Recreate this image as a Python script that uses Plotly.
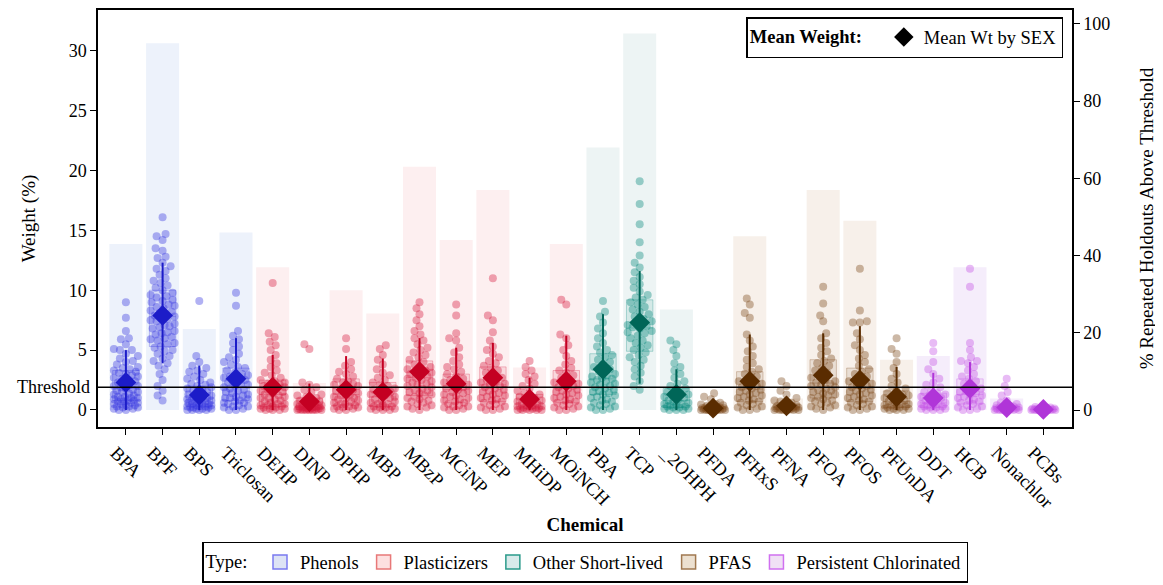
import numpy as np
import plotly.graph_objects as go

# ---------------- data ----------------
CHEMICALS = ["BPA", "BPF", "BPS", "Triclosan", "DEHP", "DINP", "DPHP", "MBP", "MBzP", "MCiNP",
             "MEP", "MHiDP", "MOiNCH", "PBA", "TCP", "_2OHPH", "PFDA", "PFHxS", "PFNA", "PFOA",
             "PFOS", "PFUnDA", "DDT", "HCB", "Nonachlor", "PCBs"]
CHEM_TYPE = ["Phenols", "Phenols", "Phenols", "Phenols",
             "Plasticizers", "Plasticizers", "Plasticizers", "Plasticizers", "Plasticizers",
             "Plasticizers", "Plasticizers", "Plasticizers", "Plasticizers",
             "Other Short-lived", "Other Short-lived", "Other Short-lived",
             "PFAS", "PFAS", "PFAS", "PFAS", "PFAS", "PFAS",
             "Persistent Chlorinated", "Persistent Chlorinated", "Persistent Chlorinated",
             "Persistent Chlorinated"]
TYPES = ["Phenols", "Plasticizers", "Other Short-lived", "PFAS", "Persistent Chlorinated"]

# % repeated holdouts above threshold (right axis)
PCT_ABOVE = [43, 95, 21, 46, 37, 7, 31, 25, 63, 44, 57, 11, 43, 68, 97.5, 26, 0, 45, 3, 57, 49,
             13, 14, 37, 3, 0]
# mean weight (left axis)
MEAN_WT = [2.3, 7.9, 1.25, 2.6, 1.9, 0.7, 1.7, 1.5, 3.2, 2.2, 2.7, 0.9, 2.4, 3.4, 7.3, 1.3, 0.15,
           2.4, 0.35, 2.9, 2.5, 1.1, 1.0, 1.8, 0.2, 0.05]
Q1 = [0.8, 5.3, 0.3, 0.8, 0.3, 0.05, 0.4, 0.3, 1.2, 0.6, 0.7, 0.1, 0.6, 1.3, 4.9, 0.2, 0.0, 0.7,
      0.05, 1.0, 0.7, 0.2, 0.2, 0.5, 0.0, 0.0]
MEDIAN = [1.8, 7.8, 0.9, 1.9, 1.3, 0.4, 1.3, 1.1, 2.7, 1.7, 2.1, 0.6, 1.8, 2.6, 6.85, 0.8, 0.1,
          1.75, 0.2, 2.25, 1.8, 0.7, 0.6, 1.3, 0.1, 0.02]
Q3 = [3.3, 10.0, 2.0, 3.5, 2.5, 1.0, 2.6, 2.3, 4.1, 3.0, 3.6, 1.3, 3.3, 4.7, 9.2, 1.8, 0.25, 3.2,
      0.5, 4.2, 3.5, 1.6, 1.4, 2.6, 0.3, 0.1]
WHISK_LO = [0, 3.9, 0, 0, 0, 0, 0, 0, 0, 0, 0, 0, 0, 0, 2.2, 0, 0, 0, 0, 0, 0, 0, 0, 0, 0, 0]
WHISK_HI = [5.0, 12.3, 3.7, 6.0, 4.6, 2.2, 4.5, 4.3, 6.0, 5.2, 5.6, 2.7, 6.2, 8.0, 11.6, 3.4, 0.6,
            6.3, 1.1, 6.4, 7.0, 3.6, 3.1, 4.0, 0.8, 0.3]
THRESHOLD = 1.9

# individual holdout weights (left axis)
W_BPA = [0.0, 0.0, 0.1, 0.1, 0.2, 0.2, 0.3, 0.3, 0.4, 0.4, 0.5, 0.5, 0.6, 0.6, 0.7, 0.7, 0.8, 0.8,
         0.9, 0.9, 1.0, 1.0, 1.1, 1.1, 1.2, 1.3, 1.4, 1.5, 1.5, 1.6, 1.7, 1.8, 1.9, 2.0, 2.0, 2.1,
         2.2, 2.3, 2.4, 2.5, 2.6, 2.7, 2.8, 2.9, 3.0, 3.1, 3.2, 3.3, 3.4, 3.5, 3.6, 3.8, 4.0, 4.1,
         4.3, 4.5, 4.7, 5.0, 5.0, 5.1, 5.5, 5.9, 6.0, 6.6, 7.7, 9.0]
W_BPF = [0.8, 1.2, 1.6, 2.0, 2.5, 3.0, 3.4, 3.7, 3.9, 4.1, 4.3, 4.5, 4.7, 4.9, 5.0, 5.2, 5.3, 5.5,
         5.6, 5.8, 5.9, 6.0, 6.1, 6.3, 6.4, 6.5, 6.6, 6.8, 6.9, 7.0, 7.1, 7.2, 7.4, 7.5, 7.6, 7.7,
         7.8, 7.9, 8.0, 8.1, 8.2, 8.3, 8.5, 8.6, 8.7, 8.8, 9.0, 9.1, 9.2, 9.4, 9.5, 9.6, 9.8, 10.0,
         10.2, 10.4, 10.6, 10.8, 11.0, 11.3, 11.6, 11.8, 12.0, 12.3, 12.7, 12.8, 13.3, 13.5, 14.2,
         14.5, 14.7, 16.1]
W_BPS = [0.0, 0.0, 0.0, 0.0, 0.1, 0.1, 0.1, 0.2, 0.2, 0.2, 0.3, 0.3, 0.3, 0.4, 0.4, 0.5, 0.5, 0.5,
         0.6, 0.6, 0.7, 0.7, 0.8, 0.8, 0.9, 0.9, 1.0, 1.0, 1.1, 1.2, 1.2, 1.3, 1.4, 1.5, 1.6, 1.7,
         1.8, 1.9, 2.0, 2.1, 2.2, 2.3, 2.5, 2.6, 2.8, 3.0, 3.2, 3.3, 3.5, 3.7, 4.0, 4.5, 9.1]
W_TRICLOSAN = [0.0, 0.0, 0.1, 0.2, 0.3, 0.3, 0.4, 0.5, 0.6, 0.6, 0.7, 0.8, 0.9, 1.0, 1.0, 1.1, 1.2,
               1.3, 1.4, 1.5, 1.6, 1.7, 1.8, 1.9, 2.0, 2.1, 2.2, 2.3, 2.4, 2.5, 2.6, 2.7, 2.8, 2.9,
               3.0, 3.1, 3.3, 3.5, 3.6, 3.8, 4.0, 4.2, 4.4, 4.7, 5.0, 5.3, 5.6, 5.9, 6.2, 6.6, 8.7,
               9.8]
W_DEHP = [0.0, 0.0, 0.0, 0.1, 0.1, 0.1, 0.2, 0.2, 0.3, 0.3, 0.4, 0.4, 0.5, 0.5, 0.6, 0.7, 0.8, 0.9,
          1.0, 1.0, 1.1, 1.2, 1.3, 1.4, 1.5, 1.6, 1.7, 1.8, 1.9, 2.0, 2.0, 2.1, 2.2, 2.3, 2.4, 2.5,
          2.7, 2.9, 3.1, 3.3, 3.6, 3.9, 4.2, 4.6, 5.0, 5.4, 5.7, 6.1, 6.4, 10.6]
W_DINP = [0.0, 0.0, 0.0, 0.0, 0.0, 0.0, 0.0, 0.05, 0.05, 0.05, 0.1, 0.1, 0.1, 0.1, 0.15, 0.15, 0.2,
          0.2, 0.2, 0.25, 0.3, 0.3, 0.3, 0.35, 0.4, 0.4, 0.45, 0.5, 0.5, 0.6, 0.6, 0.7, 0.7, 0.8,
          0.9, 1.0, 1.1, 1.2, 1.3, 1.5, 1.7, 1.9, 2.1, 2.3, 5.1, 5.5]
W_DPHP = [0.0, 0.0, 0.1, 0.1, 0.2, 0.2, 0.3, 0.3, 0.4, 0.5, 0.5, 0.6, 0.7, 0.8, 0.9, 1.0, 1.0, 1.1,
          1.2, 1.3, 1.4, 1.5, 1.6, 1.7, 1.8, 1.9, 2.0, 2.1, 2.2, 2.3, 2.4, 2.6, 2.8, 3.0, 3.2, 3.4,
          3.7, 4.0, 5.1, 6.0]
W_MBP = [0.0, 0.0, 0.0, 0.1, 0.1, 0.2, 0.2, 0.3, 0.3, 0.4, 0.5, 0.5, 0.6, 0.7, 0.8, 0.9, 1.0, 1.1,
         1.2, 1.3, 1.4, 1.5, 1.6, 1.7, 1.8, 2.0, 2.1, 2.3, 2.5, 2.7, 2.9, 3.1, 3.4, 3.8, 4.2, 4.6,
         5.1, 5.4]
W_MBZP = [0.0, 0.1, 0.2, 0.3, 0.4, 0.5, 0.6, 0.7, 0.8, 0.9, 1.0, 1.1, 1.2, 1.3, 1.4, 1.5, 1.6, 1.7,
          1.8, 1.9, 2.0, 2.1, 2.2, 2.3, 2.4, 2.5, 2.6, 2.7, 2.8, 2.9, 3.0, 3.1, 3.2, 3.3, 3.4, 3.5,
          3.6, 3.8, 4.0, 4.2, 4.4, 4.6, 4.8, 5.0, 5.2, 5.5, 5.8, 6.0, 6.3, 6.6, 7.0, 7.5, 8.0, 8.5,
          9.0]
W_MCINP = [0.0, 0.0, 0.1, 0.2, 0.3, 0.3, 0.4, 0.5, 0.6, 0.7, 0.8, 0.9, 1.0, 1.1, 1.2, 1.3, 1.4,
           1.5, 1.6, 1.7, 1.8, 1.9, 2.0, 2.1, 2.2, 2.3, 2.5, 2.6, 2.8, 3.0, 3.2, 3.4, 3.6, 3.8, 4.1,
           4.4, 4.8, 5.2, 5.8, 6.0, 6.4, 7.9, 8.8]
W_MEP = [0.0, 0.0, 0.1, 0.2, 0.3, 0.4, 0.5, 0.6, 0.7, 0.8, 0.9, 1.0, 1.1, 1.2, 1.3, 1.4, 1.5, 1.6,
         1.7, 1.8, 1.9, 2.0, 2.1, 2.2, 2.3, 2.4, 2.5, 2.7, 2.9, 3.1, 3.3, 3.5, 3.7, 3.9, 4.1, 4.4,
         4.7, 5.0, 5.3, 5.8, 6.5, 7.5, 7.9, 11.0]
W_MHIDP = [0.0, 0.0, 0.0, 0.0, 0.0, 0.1, 0.1, 0.1, 0.15, 0.2, 0.2, 0.25, 0.3, 0.3, 0.4, 0.4, 0.5,
           0.5, 0.6, 0.7, 0.8, 0.9, 1.0, 1.1, 1.2, 1.3, 1.4, 1.6, 1.8, 2.0, 2.2, 2.5, 2.8, 3.0,
           3.3, 3.6, 4.1]
W_MOINCH = [0.0, 0.0, 0.1, 0.2, 0.3, 0.4, 0.5, 0.6, 0.7, 0.8, 0.9, 1.0, 1.1, 1.2, 1.3, 1.4, 1.5,
            1.6, 1.7, 1.8, 1.9, 2.0, 2.1, 2.2, 2.3, 2.5, 2.7, 2.9, 3.1, 3.3, 3.5, 3.8, 4.1, 4.5,
            5.0, 5.4, 6.0, 6.3, 8.8, 9.2]
W_PBA = [0.0, 0.0, 0.1, 0.2, 0.3, 0.4, 0.5, 0.6, 0.7, 0.8, 0.9, 1.0, 1.1, 1.2, 1.3, 1.4, 1.5, 1.6,
         1.7, 1.8, 1.9, 2.0, 2.1, 2.2, 2.3, 2.4, 2.5, 2.6, 2.7, 2.8, 2.9, 3.0, 3.2, 3.4, 3.6, 3.8,
         4.0, 4.2, 4.4, 4.6, 4.8, 5.0, 5.3, 5.6, 6.0, 6.4, 6.8, 7.3, 7.8, 8.2, 9.1]
W_TCP = [1.7, 2.0, 2.4, 2.8, 3.1, 3.4, 3.7, 4.0, 4.2, 4.4, 4.6, 4.8, 5.0, 5.2, 5.4, 5.6, 5.8, 6.0,
         6.2, 6.4, 6.5, 6.6, 6.8, 6.9, 7.0, 7.1, 7.3, 7.4, 7.6, 7.8, 8.0, 8.2, 8.4, 8.6, 8.8, 9.0,
         9.2, 9.4, 9.6, 9.9, 10.2, 10.5, 10.8, 11.1, 11.5, 11.9, 12.3, 12.9, 14.0, 15.5, 17.2,
         19.1]
W_2OHPH = [0.0, 0.0, 0.0, 0.1, 0.1, 0.2, 0.2, 0.3, 0.3, 0.4, 0.4, 0.5, 0.5, 0.6, 0.7, 0.8, 0.9, 1.0,
           1.1, 1.2, 1.3, 1.4, 1.5, 1.6, 1.8, 2.0, 2.2, 2.4, 2.7, 3.0, 3.3, 3.6, 3.9, 4.5, 5.0, 5.5,
           5.8]
W_PFDA = [0.0, 0.0, 0.0, 0.0, 0.0, 0.0, 0.0, 0.0, 0.05, 0.05, 0.05, 0.1, 0.1, 0.1, 0.1, 0.15, 0.15,
          0.2, 0.2, 0.2, 0.25, 0.3, 0.3, 0.35, 0.4, 0.45, 0.5, 0.6, 0.9, 1.1, 1.4]
W_PFHXS = [0.0, 0.0, 0.1, 0.2, 0.3, 0.4, 0.5, 0.6, 0.7, 0.8, 0.9, 1.0, 1.1, 1.2, 1.3, 1.4, 1.5,
           1.6, 1.7, 1.8, 1.9, 2.0, 2.1, 2.2, 2.4, 2.6, 2.8, 3.0, 3.2, 3.4, 3.6, 3.9, 4.2, 4.5,
           4.9, 5.3, 5.8, 6.3, 7.7, 8.1, 8.8, 9.3]
W_PFNA = [0.0, 0.0, 0.0, 0.0, 0.0, 0.0, 0.05, 0.05, 0.1, 0.1, 0.1, 0.15, 0.15, 0.2, 0.2, 0.25, 0.3,
          0.3, 0.35, 0.4, 0.5, 0.6, 0.7, 0.8, 1.0, 1.3, 1.6, 2.0, 2.4]
W_PFOA = [0.0, 0.1, 0.2, 0.3, 0.4, 0.5, 0.6, 0.7, 0.8, 0.9, 1.0, 1.1, 1.2, 1.3, 1.4, 1.5, 1.6, 1.7,
          1.8, 1.9, 2.0, 2.1, 2.2, 2.3, 2.4, 2.5, 2.7, 2.9, 3.1, 3.3, 3.5, 3.7, 3.9, 4.1, 4.3, 4.6,
          4.9, 5.2, 5.6, 6.0, 6.4, 7.4, 7.9, 8.9, 10.3]
W_PFOS = [0.0, 0.0, 0.1, 0.2, 0.3, 0.4, 0.5, 0.6, 0.7, 0.8, 0.9, 1.0, 1.1, 1.2, 1.3, 1.4, 1.5, 1.6,
          1.7, 1.8, 1.9, 2.0, 2.1, 2.2, 2.4, 2.6, 2.8, 3.0, 3.2, 3.4, 3.7, 4.0, 4.3, 4.6, 5.0, 5.4,
          5.9, 6.4, 7.3, 7.3, 7.4, 8.3, 11.8]
W_PFUNDA = [0.0, 0.0, 0.0, 0.1, 0.1, 0.1, 0.2, 0.2, 0.3, 0.3, 0.4, 0.4, 0.5, 0.5, 0.6, 0.7, 0.8,
            0.9, 1.0, 1.1, 1.2, 1.3, 1.4, 1.6, 1.8, 2.0, 2.3, 2.6, 3.0, 3.5, 4.0, 4.7, 5.1, 6.0]
W_DDT = [0.0, 0.0, 0.0, 0.1, 0.1, 0.2, 0.2, 0.3, 0.3, 0.4, 0.4, 0.5, 0.5, 0.6, 0.7, 0.8, 0.9, 1.0,
         1.1, 1.2, 1.3, 1.4, 1.5, 1.7, 1.9, 2.1, 2.3, 2.6, 3.0, 3.4, 4.0, 4.9, 5.6]
W_HCB = [0.0, 0.0, 0.1, 0.2, 0.3, 0.4, 0.5, 0.6, 0.7, 0.8, 0.9, 1.0, 1.1, 1.2, 1.3, 1.4, 1.5, 1.6,
         1.8, 2.0, 2.2, 2.4, 2.6, 2.8, 3.0, 3.3, 3.6, 3.9, 4.1, 4.1, 4.4, 5.0, 5.6, 10.3, 11.8]
W_NONACHLOR = [0.0, 0.0, 0.0, 0.0, 0.0, 0.0, 0.05, 0.05, 0.05, 0.1, 0.1, 0.1, 0.15, 0.15, 0.2, 0.2,
               0.25, 0.3, 0.35, 0.4, 0.5, 0.6, 0.8, 1.2, 1.5, 2.0, 2.6]
W_PCBS = [0.0, 0.0, 0.0, 0.0, 0.0, 0.0, 0.0, 0.0, 0.02, 0.02, 0.05, 0.05, 0.05, 0.08, 0.1, 0.1,
          0.12, 0.15, 0.2, 0.25, 0.3]

POINT_SETS = [W_BPA, W_BPF, W_BPS, W_TRICLOSAN, W_DEHP, W_DINP, W_DPHP, W_MBP, W_MBZP, W_MCINP,
              W_MEP, W_MHIDP, W_MOINCH, W_PBA, W_TCP, W_2OHPH, W_PFDA, W_PFHXS, W_PFNA, W_PFOA,
              W_PFOS, W_PFUNDA, W_DDT, W_HCB, W_NONACHLOR, W_PCBS]

# ---------------- styling ----------------
POINT_COL = {"Phenols": (50, 50, 224), "Plasticizers": (212, 20, 58),
             "Other Short-lived": (0, 135, 122), "PFAS": (122, 69, 22),
             "Persistent Chlorinated": (194, 75, 230)}
DARK_COL = {"Phenols": "#1c1cc8", "Plasticizers": "#c40022", "Other Short-lived": "#006658",
            "PFAS": "#5a2c00", "Persistent Chlorinated": "#b035d8"}
BAR_COL = {"Phenols": "#edf2fb", "Plasticizers": "#fdeff0", "Other Short-lived": "#edf4f4",
           "PFAS": "#f7f0ea", "Persistent Chlorinated": "#f5edfb"}
LEG_FILL = {"Phenols": "#dde3f5", "Plasticizers": "#fde0e0", "Other Short-lived": "#d8eaea",
            "PFAS": "#ece0d0", "Persistent Chlorinated": "#f0e0f5"}
LEG_LINE = {"Phenols": "#7a7af0", "Plasticizers": "#e87878", "Other Short-lived": "#2a9a8a",
            "PFAS": "#a07850", "Persistent Chlorinated": "#d070f0"}

def rgba(c, a):
    return "rgba(%d,%d,%d,%.3f)" % (c[0], c[1], c[2], a)

FONT = "Liberation Serif"
# page body has an 8px default margin; the figure is sized to fill the rest of the window
W, H = 1155, 577
ML, MR, MT, MB = 90, 91, 2, 158
XR = [-0.76, 25.78]
Y_WT = [-1.42, 33.4]
Y_PCT = [-4.4, 103.6]
PPX = (W - ML - MR) / (XR[1] - XR[0])
PPY = (H - MT - MB) / (Y_WT[1] - Y_WT[0])


def swarm_offsets(vals, thr=6.5, maxw=12.5):
    cands = [0.0]
    k = 1.0
    while k <= maxw:
        cands += [-k, k]
        k += 1.0
    placed = []
    offs = []
    for v in vals:
        yp = v * PPY
        best, bestd = 0.0, -1.0
        chosen = None
        for c in cands:
            d = min((np.hypot(c - px, yp - py) for px, py in placed), default=1e9)
            if d >= thr:
                chosen = c
                break
            if d > bestd + 1e-9:
                bestd, best = d, c
        if chosen is None:
            chosen = best
        placed.append((chosen, yp))
        offs.append(chosen / PPX)
    return offs


xidx = list(range(len(CHEMICALS)))
fig = go.Figure()

# bars: % above threshold (right axis)
fig.add_trace(go.Bar(x=xidx, y=PCT_ABOVE, width=0.9, yaxis="y",
                     marker=dict(color=[BAR_COL[t] for t in CHEM_TYPE], line=dict(width=0)),
                     showlegend=False, hoverinfo="skip"))

# boxes
for i, t in enumerate(CHEM_TYPE):
    c = POINT_COL[t]
    fig.add_trace(go.Box(x=[i], q1=[Q1[i]], median=[MEDIAN[i]], q3=[Q3[i]],
                         lowerfence=[WHISK_LO[i]], upperfence=[WHISK_HI[i]],
                         width=0.72, whiskerwidth=0, yaxis="y2",
                         fillcolor=rgba(c, 0.10), line=dict(color=rgba(c, 0.28), width=1),
                         boxpoints=False, showlegend=False, hoverinfo="skip"))

# points (beeswarm)
for t in TYPES:
    xs, ys = [], []
    for i, tt in enumerate(CHEM_TYPE):
        if tt != t:
            continue
        vals = sorted(POINT_SETS[i])
        offs = swarm_offsets(vals)
        xs += [i + o for o in offs]
        ys += vals
    fig.add_trace(go.Scatter(x=xs, y=ys, mode="markers", yaxis="y2",
                             marker=dict(size=8, color=rgba(POINT_COL[t], 0.38)),
                             showlegend=False, hoverinfo="skip"))

# whiskers
for t in TYPES:
    xs, ys = [], []
    for i, tt in enumerate(CHEM_TYPE):
        if tt == t:
            xs += [i, i, None]
            ys += [WHISK_LO[i], WHISK_HI[i], None]
    fig.add_trace(go.Scatter(x=xs, y=ys, mode="lines", yaxis="y2",
                             line=dict(color=DARK_COL[t], width=2),
                             showlegend=False, hoverinfo="skip"))

# mean diamonds
for t in TYPES:
    ii = [i for i, tt in enumerate(CHEM_TYPE) if tt == t]
    fig.add_trace(go.Scatter(x=ii, y=[MEAN_WT[i] for i in ii], mode="markers", yaxis="y2",
                             marker=dict(symbol="diamond", size=16, color=DARK_COL[t]),
                             showlegend=False, hoverinfo="skip"))

# legend entries
fig.add_trace(go.Scatter(x=[None], y=[None], mode="markers", name="Mean Wt by SEX",
                         marker=dict(symbol="diamond", size=15, color="black"),
                         legend="legend", yaxis="y2"))
for t in TYPES:
    fig.add_trace(go.Scatter(x=[None], y=[None], mode="markers", name=t, legend="legend2",
                             marker=dict(symbol="square", size=14, color=LEG_FILL[t],
                                         line=dict(color=LEG_LINE[t], width=1.5)),
                             yaxis="y2"))

fig.add_shape(type="line", xref="paper", x0=0, x1=1, yref="y2", y0=THRESHOLD, y1=THRESHOLD,
              line=dict(color="black", width=1.5), layer="above")
fig.add_annotation(xref="paper", x=0, yref="y2", y=THRESHOLD, text="Threshold",
                   showarrow=False, xanchor="right", xshift=-6,
                   font=dict(family=FONT, size=18, color="black"))

fig.update_layout(
    width=W, height=H,
    margin=dict(l=ML, r=MR, t=MT, b=MB, autoexpand=False),
    paper_bgcolor="white", plot_bgcolor="white",
    font=dict(family=FONT, size=19, color="black"),
    barmode="overlay",
    xaxis=dict(range=XR, tickmode="array", tickvals=xidx, ticktext=CHEMICALS, tickangle=45,
               ticks="outside", ticklen=6, tickcolor="black", showline=True, linecolor="black",
               linewidth=1.5, mirror=True, showgrid=False, zeroline=False, automargin=False,
               ticklabelshift=-10,
               tickfont=dict(family=FONT, size=18.5, color="black"),
               title=dict(text="<b>Chemical</b>", font=dict(family=FONT, size=19, color="black"),
                          standoff=6)),
    yaxis=dict(range=Y_PCT, side="right", tickvals=[0, 20, 40, 60, 80, 100], ticks="outside",
               ticklen=6, tickcolor="black", showline=True, linecolor="black", linewidth=1.5,
               showgrid=False, zeroline=False, automargin=False,
               tickfont=dict(family=FONT, size=18, color="black"),
               title=dict(text="% Repeated Holdouts Above Threshold",
                          font=dict(family=FONT, size=19, color="black"), standoff=30)),
    yaxis2=dict(range=Y_WT, side="left", overlaying="y", tickvals=[0, 5, 10, 15, 20, 25, 30],
                ticks="outside", ticklen=6, tickcolor="black", showline=True, linecolor="black",
                linewidth=1.5, showgrid=False, zeroline=False, automargin=False,
                tickfont=dict(family=FONT, size=18, color="black"),
                title=dict(text="Weight (%)", font=dict(family=FONT, size=19, color="black"),
                           standoff=28)),
    legend=dict(title=dict(text="<b>Mean Weight:</b>\u00a0\u00a0\u00a0",
                           font=dict(family=FONT, size=18.5, color="black")),
                orientation="h", x=0.991, y=0.983, xanchor="right", yanchor="top",
                bordercolor="black", borderwidth=1.5, bgcolor="white",
                font=dict(family=FONT, size=18.5, color="black"), itemwidth=30),
    legend2=dict(title=dict(text="Type:\u00a0", font=dict(family=FONT, size=18.5, color="black")),
                 orientation="h", x=0.5, y=-0.374, xanchor="center", yanchor="bottom",
                 bordercolor="black", borderwidth=1.5, bgcolor="white",
                 font=dict(family=FONT, size=18.5, color="black"), itemwidth=30),
    showlegend=True,
)

fig.write_html("out.html")
